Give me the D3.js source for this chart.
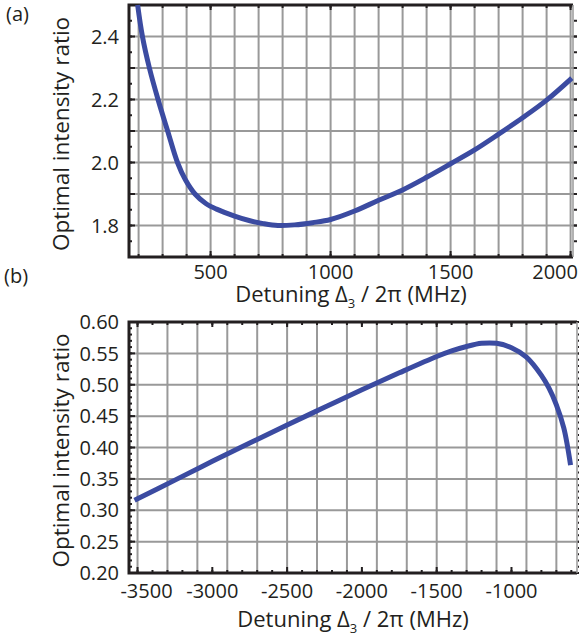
<!DOCTYPE html>
<html><head><meta charset="utf-8">
<script src="https://cdn.jsdelivr.net/npm/d3@7"></script>
<style>body{margin:0;background:#fff}svg{display:block}</style>
</head><body>
<svg id="c" width="579" height="640"></svg>
<script>
// Panel (a) data
const aDetuning = [196, 216, 245, 281, 321, 362, 395, 435, 480, 525, 600, 664, 720, 780, 850, 925, 1000, 1100, 1200, 1300, 1400, 1500, 1600, 1700, 1800, 1900, 2005];
const aRatio    = [2.50, 2.40, 2.30, 2.20, 2.10, 2.00, 1.945, 1.90, 1.870, 1.852, 1.830, 1.815, 1.806, 1.800, 1.802, 1.809, 1.819, 1.846, 1.880, 1.913, 1.953, 1.996, 2.040, 2.090, 2.142, 2.198, 2.268];
const aXTicks = [500, 1000, 1500, 2000];
const aYTicks = [1.8, 2.0, 2.2, 2.4];
// Panel (b) data
const bDetuning = [-3520, -3250, -3000, -2750, -2500, -2250, -2000, -1750, -1500, -1400, -1300, -1200, -1100, -1000, -900, -800, -750, -700, -650, -605];
const bRatio    = [0.316, 0.348, 0.378, 0.407, 0.436, 0.464, 0.492, 0.519, 0.545, 0.554, 0.561, 0.566, 0.566, 0.559, 0.544, 0.515, 0.495, 0.468, 0.431, 0.372];
const bXTicks = [-3500, -3000, -2500, -2000, -1500, -1000];
const bYTicks = [0.20, 0.25, 0.30, 0.35, 0.40, 0.45, 0.50, 0.55, 0.60];

const FONT = "'Open Sans', 'DejaVu Sans', sans-serif";
const svg = d3.select("#c");
const ink = "#231f20", gridC = "#999999", lineC = "#3b4ba1";

function panel(o) {
  const g = svg.append("g");
  const x = d3.scaleLinear().domain(o.xDom).range([o.left, o.right]);
  const y = d3.scaleLinear().domain(o.yDom).range([o.bottom, o.top]);
  // grid
  g.append("g").selectAll("line").data(o.xGrid).join("line")
    .attr("x1", d => x(d)).attr("x2", d => x(d)).attr("y1", o.top).attr("y2", o.bottom)
    .attr("stroke", gridC).attr("stroke-width", 2);
  g.append("g").selectAll("line").data(o.yGrid).join("line")
    .attr("y1", d => y(d)).attr("y2", d => y(d)).attr("x1", o.left).attr("x2", o.right)
    .attr("stroke", gridC).attr("stroke-width", 2);
  // tick marks
  const tk = (vals, len, fn) => g.append("g").selectAll("line").data(vals).join("line")
      .each(function(d){ fn(d3.select(this), d, len); })
      .attr("stroke", ink).attr("stroke-width", 2);
  tk(o.xMinor, 3, (s,d,l) => s.attr("x1", x(d)).attr("x2", x(d)).attr("y1", o.bottom).attr("y2", o.bottom - l));
  tk(o.xMajor, 6, (s,d,l) => s.attr("x1", x(d)).attr("x2", x(d)).attr("y1", o.bottom).attr("y2", o.bottom - l));
  tk(o.xMinor, 3, (s,d,l) => s.attr("x1", x(d)).attr("x2", x(d)).attr("y1", o.top).attr("y2", o.top + l));
  tk(o.xMajor, 5, (s,d,l) => s.attr("x1", x(d)).attr("x2", x(d)).attr("y1", o.top).attr("y2", o.top + l));
  tk(o.yMinor, 3, (s,d,l) => s.attr("y1", y(d)).attr("y2", y(d)).attr("x1", o.left).attr("x2", o.left + l));
  tk(o.yMajor, 6, (s,d,l) => s.attr("y1", y(d)).attr("y2", y(d)).attr("x1", o.left).attr("x2", o.left + l));
  tk(o.yMinor, 3, (s,d,l) => s.attr("y1", y(d)).attr("y2", y(d)).attr("x1", o.right + 1).attr("x2", o.right + 1 + l));
  tk(o.yMajor, 4, (s,d,l) => s.attr("y1", y(d)).attr("y2", y(d)).attr("x1", o.right).attr("x2", o.right + l));
  // frame
  g.append("path").attr("d", `M${o.right},${o.top}H${o.left}V${o.bottom}H${o.right}`)
    .attr("fill", "none").attr("stroke", ink).attr("stroke-width", 3);
  g.append("line").attr("x1", o.right).attr("x2", o.right).attr("y1", o.top).attr("y2", o.bottom)
    .attr("stroke", gridC).attr("stroke-width", 1.5);
  // curve
  const pts = o.xs.map((v, i) => [v, o.ys[i]]);
  g.append("path").datum(pts)
    .attr("d", d3.line().x(d => x(d[0])).y(d => y(d[1])).curve(d3.curveCatmullRom.alpha(0.5)))
    .attr("fill", "none").attr("stroke", lineC).attr("stroke-width", 5);
  // tick labels
  const n = o.xTicks.length;
  g.append("g").selectAll("text").data(o.xTicks).join("text")
    .attr("x", (d, i) => i === 0 && o.firstDx ? x(d) + o.firstDx : (i === n - 1 && o.lastEnd ? o.lastEnd : x(d)))
    .attr("y", o.bottom + o.tickDy)
    .attr("text-anchor", (d, i) => (i === n - 1 && o.lastEnd) ? "end" : "middle")
    .attr("font-family", FONT).attr("font-size", 20).attr("fill", ink)
    .text(d => o.xFmt(d).replace("\u2212", "-"));
  g.append("g").selectAll("text").data(o.yTicks).join("text")
    .attr("x", o.left - 10).attr("y", d => y(d)).attr("dy", "0.36em")
    .attr("text-anchor", "end").attr("font-family", FONT).attr("font-size", 20).attr("fill", ink)
    .text(d => o.yFmt(d));
  // y title
  g.append("text").attr("transform", `translate(69,${(o.top + o.bottom) / 2 + 3}) rotate(-90)`)
    .attr("text-anchor", "middle").attr("font-family", FONT).attr("font-size", 22.5).attr("fill", ink)
    .text("Optimal intensity ratio");
  // x title
  const t = g.append("text").attr("x", (o.left + o.right) / 2).attr("y", o.bottom + o.titleDy)
    .attr("text-anchor", "middle").attr("font-family", FONT).attr("font-size", 22).attr("fill", ink);
  t.append("tspan").text("Detuning Δ");
  t.append("tspan").attr("font-size", 13).attr("dy", 6).text("3");
  t.append("tspan").attr("dy", -6).text(" / 2π (MHz)");
  // panel label
  svg.append("text").attr("x", o.labX).attr("y", o.labY).attr("font-family", FONT)
    .attr("font-size", 20).attr("fill", ink).text(o.label);
}

const rangeStep = (a, b, s) => d3.range(0, Math.round((b - a) / s) + 1).map(k => +(a + k * s).toFixed(4));

panel({
  left: 129, right: 573, top: 5, bottom: 257,
  xDom: [160, 2010], yDom: [1.7, 2.5],
  xGrid: rangeStep(200, 2000, 100), yGrid: rangeStep(1.8, 2.4, 0.1),
  xMinor: rangeStep(200, 2000, 100), xMajor: aXTicks,
  yMinor: rangeStep(1.75, 2.45, 0.05), yMajor: rangeStep(1.8, 2.4, 0.1),
  xs: aDetuning, ys: aRatio, xTicks: aXTicks, yTicks: aYTicks,
  xFmt: d3.format("d"), yFmt: d3.format(".1f"), lastEnd: 578,
  tickDy: 22, titleDy: 45,
  label: "(a)", labX: 6, labY: 21
});

panel({
  left: 129, right: 577, top: 322, bottom: 573,
  xDom: [-3557, -562], yDom: [0.2, 0.6],
  xGrid: rangeStep(-3500, -700, 200), yGrid: rangeStep(0.25, 0.55, 0.05),
  xMinor: rangeStep(-3500, -600, 100), xMajor: bXTicks,
  yMinor: rangeStep(0.21, 0.59, 0.01), yMajor: bYTicks,
  xs: bDetuning, ys: bRatio, xTicks: bXTicks, yTicks: bYTicks,
  xFmt: d3.format("d"), yFmt: d3.format(".2f"), firstDx: 9,
  tickDy: 25, titleDy: 54,
  label: "(b)", labX: 4, labY: 283
});
</script>
</body></html>
